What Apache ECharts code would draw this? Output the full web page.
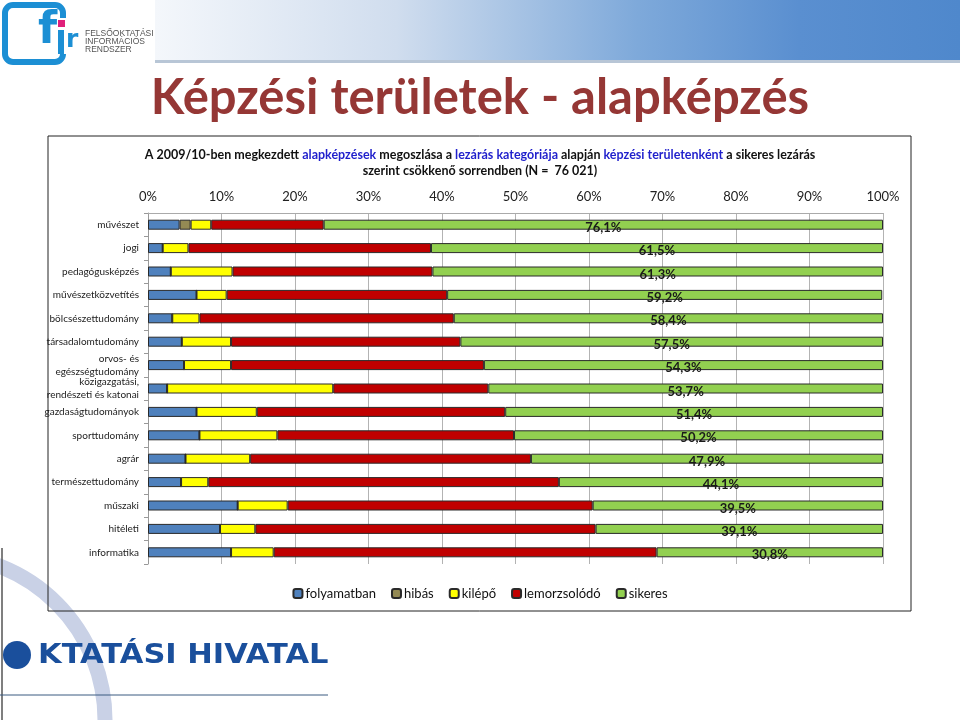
<!DOCTYPE html>
<html><head><meta charset="utf-8">
<script src="https://cdn.jsdelivr.net/npm/echarts@6/dist/echarts.min.js"></script>
<style>html,body{margin:0;padding:0;background:#fff}#c{width:960px;height:720px}</style>
</head><body><div id="c"></div>
<script>
const categories = ['művészet','jogi','pedagógusképzés','művészetközvetítés','bölcsészettudomány','társadalomtudomány','orvos- és\negészségtudomány','közigazgatási,\nrendészeti és katonai','gazdaságtudományok','sporttudomány','agrár','természettudomány','műszaki','hitéleti','informatika'];
const folyamatban = [4.3,2.0,3.1,6.6,3.3,4.6,4.9,2.6,6.6,7.0,5.1,4.5,12.2,9.8,11.3];
const hibas = [1.5,0,0,0,0,0,0,0,0,0,0,0,0,0,0];
const kilepo = [2.8,3.5,8.4,4.1,3.7,6.7,6.4,22.6,8.2,10.6,8.8,3.7,6.8,4.8,5.8];
const lemorzsolodo = [15.3,33.0,27.2,30.0,34.6,31.2,34.4,21.1,33.8,32.2,38.2,47.7,41.5,46.3,52.1];
const sikeres = [76.1,61.5,61.3,59.2,58.4,57.5,54.3,53.7,51.4,50.2,47.9,44.1,39.5,39.1,30.8];
const seriesNames = ['folyamatban','hibás','kilépő','lemorzsolódó','sikeres'];
const colors = ['#4F81BD','#948A54','#FFFF00','#C00000','#92D050'];

const chart = echarts.init(document.getElementById('c'));
const dataSets = [folyamatban, hibas, kilepo, lemorzsolodo, sikeres];
const series = dataSets.map((d, i) => ({
  name: seriesNames[i], type: 'bar', stack: 'all', data: d, barWidth: 10,
  itemStyle: { color: colors[i], borderColor: '#2a2a2a', borderWidth: 1 },
  label: i === 4 ? { show: true, position: 'inside', offset: [0, 3],
    formatter: p => p.value.toFixed(1).replace('.', ',') + '%',
    fontFamily: 'Lato', fontWeight: 'bold', fontSize: 13, color: '#1a1a1a' } : { show: false },
  emphasis: { disabled: true }
}));

chart.setOption({
  animation: false,
  color: colors,
  graphic: [
    { type: 'rect', shape: { x: 155, y: 0, width: 805, height: 60 },
      style: { fill: new echarts.graphic.LinearGradient(0, 0, 1, 0, [
        { offset: 0, color: '#f4f7fb' }, { offset: 0.3, color: '#d0ddee' }, { offset: 0.6, color: '#7ea9da' }, { offset: 0.8, color: '#5a8fd0' }, { offset: 1, color: '#4f88cc' }]) }, z: -10 },
    { type: 'rect', shape: { x: 155, y: 60, width: 805, height: 3 }, style: { fill: '#b8c6d6' }, z: -10 },
    { type: 'arc', shape: { cx: -60, cy: 720, r: 165, startAngle: -Math.PI / 2, endAngle: 0 },
      style: { stroke: '#c9d1e6', lineWidth: 15, fill: null }, z: -10 },
    { type: 'rect', shape: { x: 5, y: 5, width: 58, height: 57, r: 8 },
      style: { stroke: '#1c8fd4', lineWidth: 6, fill: null }, z: 1 },
    { type: 'rect', shape: { x: 57, y: 18, width: 12, height: 36 }, style: { fill: '#fff' }, z: 2 },
    { type: 'text', style: { text: 'f', x: 38, y: 54, fontFamily: 'DejaVu Sans', fontWeight: 'bold', fontSize: 44, fill: '#1c8fd4', textVerticalAlign: 'bottom' }, z: 3 },
    { type: 'rect', shape: { x: 58, y: 20, width: 7, height: 7 }, style: { fill: '#e0207a' }, z: 3 },
    { type: 'rect', shape: { x: 58, y: 30, width: 6, height: 24 }, style: { fill: '#1c8fd4' }, z: 3 },
    { type: 'text', style: { text: 'r', x: 66, y: 53, fontFamily: 'DejaVu Sans', fontWeight: 'bold', fontSize: 25, fill: '#1c8fd4', textVerticalAlign: 'bottom' }, z: 3 },
    { type: 'text', style: { text: 'FELSŐOKTATÁSI\nINFORMÁCIÓS\nRENDSZER', x: 85, y: 30, fontFamily: 'Liberation Sans', fontSize: 8.5, lineHeight: 8, fill: '#555' }, z: 3 },
    { type: 'text', style: { text: 'Képzési területek - alapképzés', x: 480, y: 98, textAlign: 'center', textVerticalAlign: 'middle',
      fontFamily: 'Lato', fontWeight: 'bold', fontSize: 49, fill: '#953735' } },
    { type: 'rect', shape: { x: 48, y: 136, width: 863, height: 475 }, style: { stroke: '#222', lineWidth: 1, fill: null } },
    { type: 'text', style: { x: 480, y: 155, textAlign: 'center', textVerticalAlign: 'middle',
      text: '{b|A 2009/10-ben megkezdett }{u|alapképzések}{b| megoszlása a }{u|lezárás kategóriája}{b| alapján }{u|képzési területenként}{b| a sikeres lezárás}',
      rich: { b: { fontFamily: 'Lato', fontWeight: 'bold', fontSize: 12.5, fill: '#111' }, u: { fontFamily: 'Lato', fontWeight: 'bold', fontSize: 12.5, fill: '#1f1fcc' } } } },
    { type: 'text', style: { x: 480, y: 171, textAlign: 'center', textVerticalAlign: 'middle',
      text: 'szerint csökkenő sorrendben (N =  76 021)', fontFamily: 'Lato', fontWeight: 'bold', fontSize: 12.5, fill: '#111' } },
    { type: 'line', shape: { x1: 2, y1: 548, x2: 2, y2: 720 }, style: { stroke: '#555', lineWidth: 1.5 } },
    { type: 'circle', shape: { cx: 17, cy: 655, r: 14 }, style: { fill: '#1a4f9c' } },
    { type: 'text', x: 38, y: 656, scaleX: 1.13, style: { text: 'KTATÁSI HIVATAL', x: 0, y: 0, textVerticalAlign: 'middle', fontFamily: 'DejaVu Sans', fontWeight: 'bold', fontSize: 27, fill: '#1a4f9c' } },
    { type: 'line', shape: { x1: 0, y1: 695, x2: 328, y2: 695 }, style: { stroke: '#3a5a80', lineWidth: 1 } }
  ],
  legend: {
    top: 582, left: 'center', itemWidth: 9, itemHeight: 9, itemGap: 15,
    textStyle: { fontFamily: 'Lato', fontSize: 13, color: '#111', padding: [0, 0, 0, -2] },
    data: seriesNames
  },
  grid: { left: 148, right: 77, top: 213, bottom: 156 },
  xAxis: {
    type: 'value', position: 'top', min: 0, max: 100, interval: 10,
    axisLabel: { formatter: '{value}%', fontFamily: 'Lato', fontSize: 13, color: '#222', margin: 10 },
    axisLine: { show: true, lineStyle: { color: '#aaa' } },
    axisTick: { show: false },
    splitLine: { show: true, lineStyle: { color: '#b3b3b3', width: 1 } }
  },
  yAxis: {
    type: 'category', inverse: true, data: categories,
    axisLabel: { fontFamily: 'Lato', fontSize: 10, color: '#222', margin: 9, lineHeight: 13 },
    axisLine: { show: true, lineStyle: { color: '#999' } },
    axisTick: { show: true, length: 4, lineStyle: { color: '#999' } }
  },
  series
});
</script></body></html>
